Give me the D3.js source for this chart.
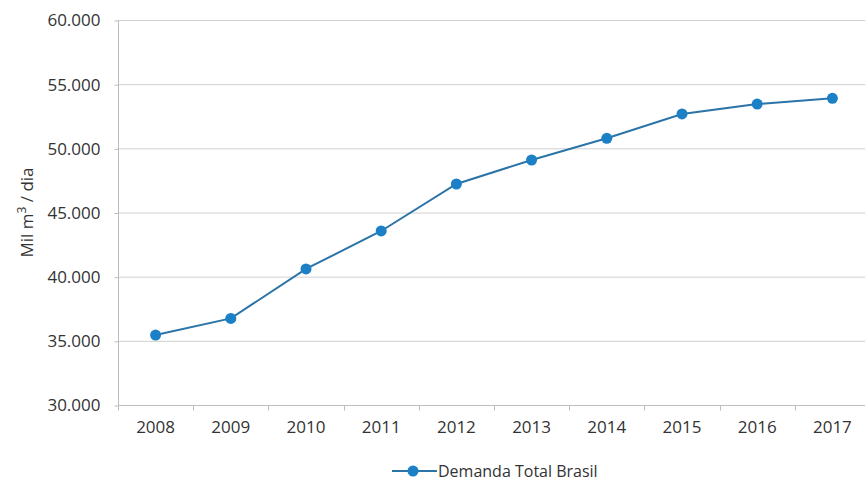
<!DOCTYPE html>
<html lang="pt">
<head>
<meta charset="UTF-8">
<title>Demanda Total Brasil</title>
<style>
  body { margin: 0; background: #fff; }
  text { font-family: "Open Sans", "Noto Sans", sans-serif; fill: #333; }
  .grid line { stroke: #d0d0d0; stroke-width: 1; }
  .axis path, .axis line { stroke: #bdbdbd; }
  .line { fill: none; stroke: #2b74a8; stroke-width: 2; }
  .dot { fill: #1b80c6; }
</style>
</head>
<body>
<script src="https://d3js.org/d3.v7.min.js"></script>
<script>
// data
var years = ["2008", "2009", "2010", "2011", "2012", "2013", "2014", "2015", "2016", "2017"];
var demanda = [35450, 36750, 40600, 43560, 47220, 49090, 50780, 52680, 53450, 53900];
var yTicks = [30000, 35000, 40000, 45000, 50000, 55000, 60000];
var seriesName = "Demanda Total Brasil";

var W = 865, H = 481;
var margin = {top: 20, right: -5, bottom: 76, left: 118};
var width = W - margin.left - margin.right,
    height = H - margin.top - margin.bottom;

var svg = d3.select("body").append("svg")
    .attr("width", W)
    .attr("height", H);

var g = svg.append("g")
    .attr("transform", "translate(" + margin.left + "," + margin.top + ")");

var x = d3.scaleBand().domain(years).range([0, width]);
var y = d3.scaleLinear().domain([30000, 60000]).range([height, 0]);

var fmt = function(d) { return d3.format(",")(d).replace(/,/g, "."); };

// horizontal gridlines
g.append("g").attr("class", "grid")
  .selectAll("line")
  .data(yTicks.slice(1))
  .enter().append("line")
    .attr("x1", 0).attr("x2", width)
    .attr("y1", function(d) { return y(d) + 0.5; })
    .attr("y2", function(d) { return y(d) + 0.5; });

// y axis
var yAxis = g.append("g").attr("class", "axis")
    .attr("transform", "translate(0.5,0.5)")
    .call(d3.axisLeft(y).tickValues(yTicks).tickFormat(fmt).tickSize(4).tickPadding(14));
yAxis.select(".domain").attr("d", "M0," + y(60000) + "V" + y(30000));
yAxis.selectAll("text").style("font-size", "17px").attr("fill", "#333");

// x axis, ticks between categories
var xAxis = g.append("g").attr("class", "axis")
    .attr("transform", "translate(0," + (height + 0.5) + ")");
xAxis.append("line")
    .attr("x1", 0).attr("x2", width);
xAxis.selectAll(".tk")
  .data(years)
  .enter().append("line")
    .attr("class", "tk")
    .attr("x1", function(d) { return Math.round(x(d)) + 0.5; })
    .attr("x2", function(d) { return Math.round(x(d)) + 0.5; })
    .attr("y1", 0).attr("y2", 5);
xAxis.selectAll("text")
  .data(years)
  .enter().append("text")
    .attr("x", function(d) { return x(d) + x.bandwidth() / 2; })
    .attr("y", 27)
    .attr("text-anchor", "middle")
    .style("font-size", "17px")
    .text(function(d) { return d; });

// y title
var yt = svg.append("text")
    .attr("transform", "translate(33," + (margin.top + height / 2) + ") rotate(-90)")
    .attr("text-anchor", "middle")
    .style("font-size", "17px");
yt.append("tspan").text("Mil m");
yt.append("tspan").attr("dy", -7).style("font-size", "12px").text("3");
yt.append("tspan").attr("dy", 7).text(" / dia");

// line and points
var line = d3.line()
    .x(function(d, i) { return x(years[i]) + x.bandwidth() / 2; })
    .y(function(d) { return y(d); });

g.append("path").datum(demanda).attr("class", "line").attr("d", line);

g.selectAll(".dot")
  .data(demanda)
  .enter().append("circle")
    .attr("class", "dot")
    .attr("cx", function(d, i) { return x(years[i]) + x.bandwidth() / 2; })
    .attr("cy", function(d) { return y(d); })
    .attr("r", 5.5);

// legend
var lg = svg.append("g").attr("transform", "translate(392,471)");
lg.append("line").attr("x1", 0).attr("x2", 45).attr("y1", 0).attr("y2", 0)
    .attr("stroke", "#2b74a8").attr("stroke-width", 2);
lg.append("circle").attr("cx", 21).attr("cy", 0).attr("r", 5.5).attr("fill", "#1b80c6");
lg.append("text").attr("x", 46).attr("y", 6).style("font-size", "16px").text(seriesName);
</script>
</body>
</html>
